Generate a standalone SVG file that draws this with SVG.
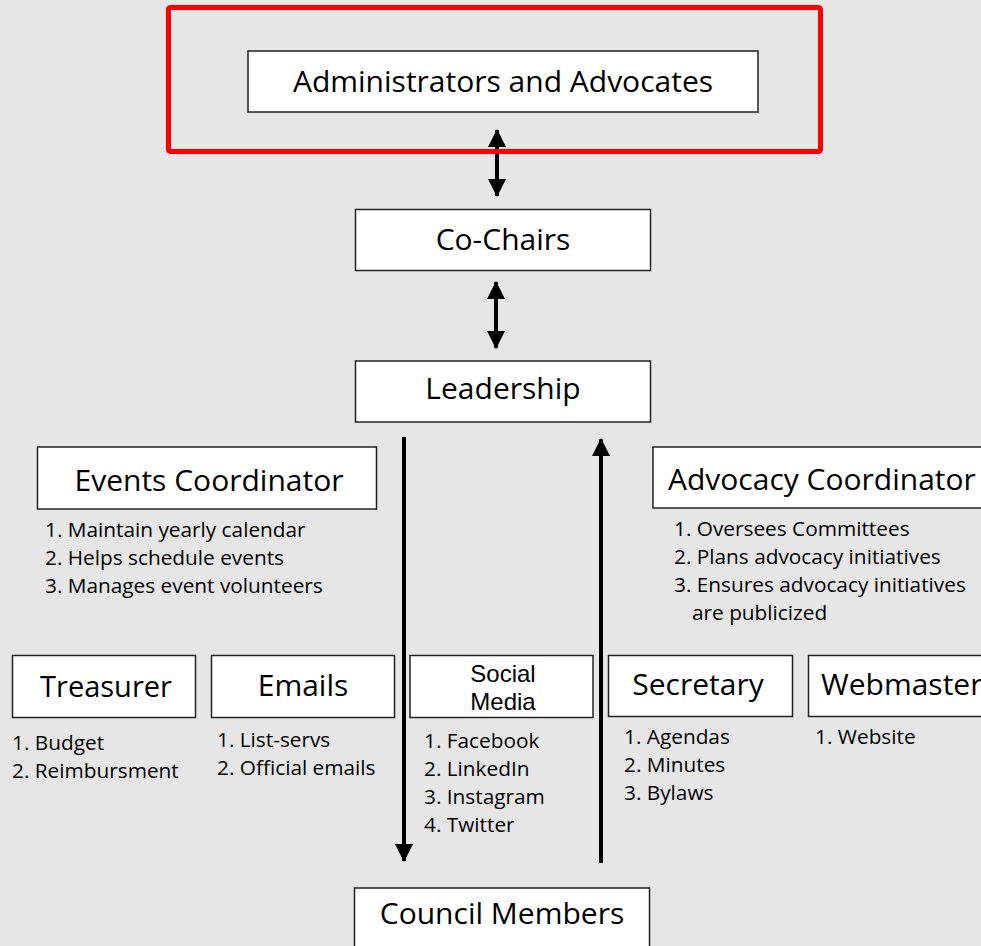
<svg xmlns="http://www.w3.org/2000/svg" width="981" height="946" viewBox="0 0 981 946">
<style>
.bg{fill:#e6e6e6}
.box{fill:#ffffff;stroke:#222222;stroke-width:1.5}
.t{font-family:"Open Sans","Liberation Sans",sans-serif;font-size:30px;fill:#000000;text-anchor:middle}
.ts{font-family:"Liberation Sans","Open Sans",sans-serif;font-size:24px;fill:#000000;text-anchor:middle}
.l{font-family:"Open Sans","Liberation Sans",sans-serif;font-size:20.8px;fill:#000000}
.ln{stroke:#000000;stroke-width:4;fill:none}
</style>
<defs>
<marker id="ah" markerUnits="userSpaceOnUse" viewBox="0 0 18 18" refX="17" refY="9" markerWidth="18" markerHeight="18" orient="auto-start-reverse">
<path d="M0,0 L18,9 L0,18 Z" fill="#000000"/>
</marker>
</defs>
<rect class="bg" x="0" y="0" width="981" height="946"/>
<g id="connectors">
<line class="ln" x1="497" y1="130" x2="497" y2="196" marker-start="url(#ah)" marker-end="url(#ah)"/>
<line class="ln" x1="496" y1="282" x2="496" y2="348" marker-start="url(#ah)" marker-end="url(#ah)"/>
<line class="ln" x1="404" y1="437" x2="404" y2="861" marker-end="url(#ah)"/>
<line class="ln" x1="601" y1="863" x2="601" y2="439" marker-end="url(#ah)"/>
</g>
<g id="group-admin">
<rect x="168.5" y="7.5" width="652" height="144" fill="none" stroke="#ff0000" stroke-width="5" rx="2"/>
</g>
<g id="node-admin">
<rect class="box" x="248" y="51" width="510" height="61"/>
<text class="t" x="503" y="92">Administrators and Advocates</text>
</g>
<g id="node-cochairs">
<rect class="box" x="355.5" y="209.5" width="295" height="61"/>
<text class="t" x="503" y="250">Co-Chairs</text>
</g>
<g id="node-leadership">
<rect class="box" x="355.5" y="361" width="295" height="61"/>
<text class="t" x="503" y="399">Leadership</text>
</g>
<g id="node-events">
<rect class="box" x="37.5" y="447" width="339" height="62"/>
<text class="t" x="209" y="491">Events Coordinator</text>
<text class="l" x="45" y="537">1. Maintain yearly calendar</text>
<text class="l" x="45" y="565">2. Helps schedule events</text>
<text class="l" x="45" y="593">3. Manages event volunteers</text>
</g>
<g id="node-advocacy">
<rect class="box" x="653" y="447" width="340" height="61"/>
<text class="t" x="668" y="490" style="text-anchor:start">Advocacy Coordinator</text>
<text class="l" x="674" y="536">1. Oversees Committees</text>
<text class="l" x="674" y="564">2. Plans advocacy initiatives</text>
<text class="l" x="674" y="592">3. Ensures advocacy initiatives</text>
<text class="l" x="692" y="620">are publicized</text>
</g>
<g id="node-treasurer">
<rect class="box" x="12.5" y="655.5" width="183" height="62"/>
<text class="t" x="106" y="697" style="font-size:29px">Treasurer</text>
<text class="l" x="12" y="750">1. Budget</text>
<text class="l" x="12" y="778">2. Reimbursment</text>
</g>
<g id="node-emails">
<rect class="box" x="211.5" y="655.5" width="183" height="62"/>
<text class="t" x="303" y="696">Emails</text>
<text class="l" x="217" y="747">1. List-servs</text>
<text class="l" x="217" y="775">2. Official emails</text>
</g>
<g id="node-social">
<rect class="box" x="410" y="655.5" width="183" height="62"/>
<text class="ts"><tspan x="503" y="682">Social</tspan><tspan x="503" y="710">Media</tspan></text>
<text class="l" x="424" y="748">1. Facebook</text>
<text class="l" x="424" y="776">2. LinkedIn</text>
<text class="l" x="424" y="804">3. Instagram</text>
<text class="l" x="424" y="832">4. Twitter</text>
</g>
<g id="node-secretary">
<rect class="box" x="608.5" y="655.5" width="184" height="61"/>
<text class="t" x="698" y="695">Secretary</text>
<text class="l" x="624" y="744">1. Agendas</text>
<text class="l" x="624" y="772">2. Minutes</text>
<text class="l" x="624" y="800">3. Bylaws</text>
</g>
<g id="node-webmaster">
<rect class="box" x="808.5" y="655.5" width="190" height="61"/>
<text class="t" x="821" y="695" style="text-anchor:start">Webmaster</text>
<text class="l" x="815" y="744">1. Website</text>
</g>
<g id="node-council">
<rect class="box" x="354.5" y="888" width="295" height="70"/>
<text class="t" x="502" y="924">Council Members</text>
</g>
</svg>
